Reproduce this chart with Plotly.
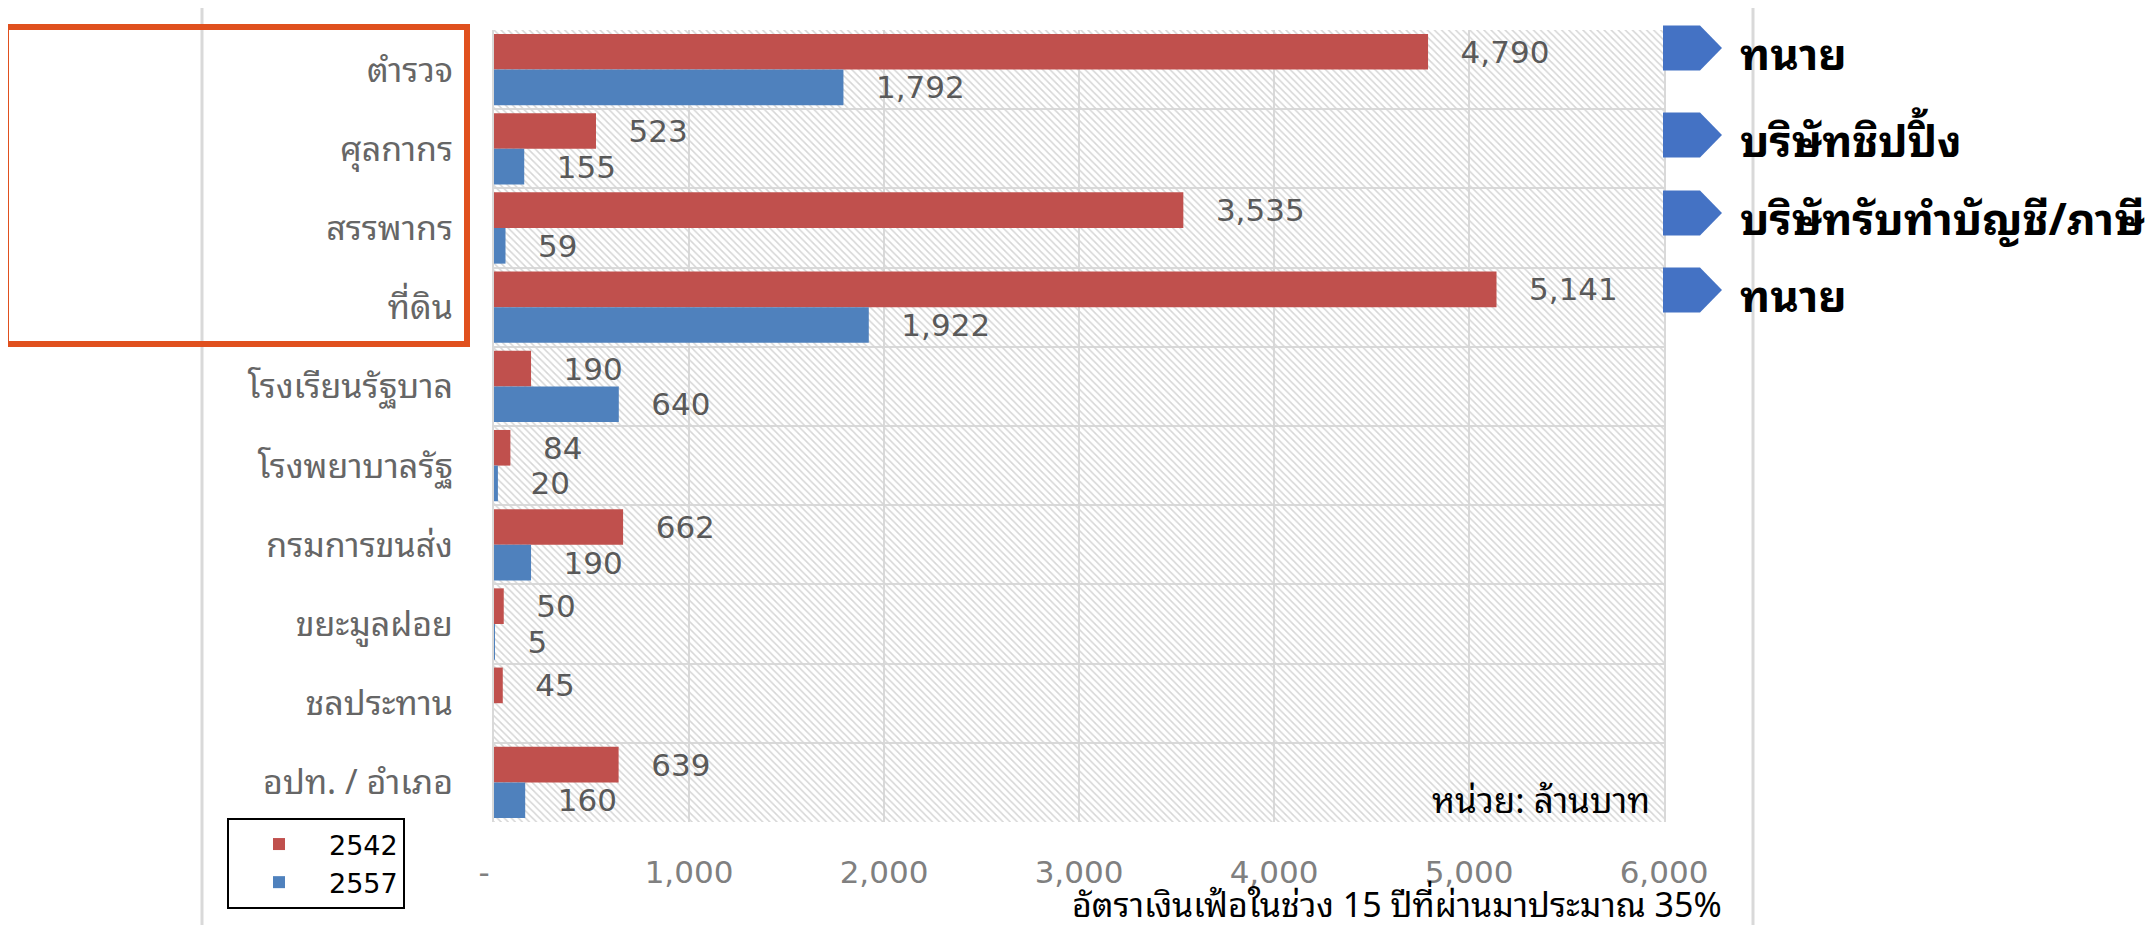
import plotly.graph_objects as go

# ---------------- data ----------------
CATEGORIES = ["ตำรวจ", "ศุลกากร", "สรรพากร", "ที่ดิน", "โรงเรียนรัฐบาล",
              "โรงพยาบาลรัฐ", "กรมการขนส่ง", "ขยะมูลฝอย", "ชลประทาน", "อปท. / อำเภอ"]
SERIES_NAMES = ["2542", "2557"]
VALUES_2542 = [4790, 523, 3535, 5141, 190, 84, 662, 50, 45, 639]
VALUES_2557 = [1792, 155, 59, 1922, 640, 20, 190, 5, None, 160]
X_TICK_VALUES = [0, 1000, 2000, 3000, 4000, 5000, 6000]
X_TICK_LABELS = ["-\u00a0\u00a0", "1,000", "2,000", "3,000", "4,000", "5,000", "6,000"]
SIDE_LABELS = ["ทนาย", "บริษัทชิปปิ้ง", "บริษัทรับทำบัญชี/ภาษี", "ทนาย"]
UNIT_TEXT = "หน่วย: ล้านบาท"
NOTE_TEXT = "อัตราเงินเฟ้อในช่วง 15 ปีที่ผ่านมาประมาณ 35%"

# ---------------- styling / layout ----------------
OFF = 8                                   # page body margin
W, H = 2156 - OFF, 925 - OFF
PL, PR, PT, PB = 494, 1664, 30, 822       # plot area in reference pixels
COL_RED = "#C0504D"
COL_BLUE = "#4F81BD"
COL_ARROW = "#4472C4"
COL_ORANGE = "#E0501E"
GRID = "#D9D9D9"
TXT_GREY = "#595959"
THAI_FONT = "Noto Sans Thai Looped, Noto Sans Thai, Noto Sans, sans-serif"
NUM_FONT = "DejaVu Sans, Open Sans, sans-serif"
SIDE_Y_PX = [48, 135, 213, 290]


def px(x):
    return (x - PL) / (PR - PL)


def py(y):
    return (PB - y) / (PB - PT)


n = len(CATEGORIES)
x_max = X_TICK_VALUES[-1]

fig = go.Figure()

# hatched plot-area background (on main linear y axis)
fig.add_trace(go.Bar(
    x=[x_max], y=[(n - 1) / 2], width=[n], base=0, orientation="h",
    xaxis="x", yaxis="y",
    marker=dict(color="rgba(0,0,0,0)", line=dict(width=0),
                pattern=dict(shape="\\", fgcolor="#D6D6D6", bgcolor="rgba(0,0,0,0)",
                             size=5, solidity=0.3, fillmode="replace")),
    hoverinfo="skip", showlegend=False,
))

for name, vals, col in [(SERIES_NAMES[0], VALUES_2542, COL_RED),
                        (SERIES_NAMES[1], VALUES_2557, COL_BLUE)]:
    fig.add_trace(go.Bar(
        name=name, x=vals, y=CATEGORIES, orientation="h",
        xaxis="x", yaxis="y2",
        marker=dict(color=col, line=dict(width=0)),
        texttemplate="\u00a0\u00a0\u00a0%{x:,}", textposition="outside",
        constraintext="none",
        textfont=dict(color=TXT_GREY, size=31, family=NUM_FONT),
        cliponaxis=False,
    ))

shapes = []
# outer chart-area frame
shapes.append(dict(type="rect", xref="paper", yref="paper",
                   x0=px(202), x1=px(1753), y0=py(4), y1=py(960),
                   line=dict(color=GRID, width=3), fillcolor="rgba(0,0,0,0)", layer="below"))
# orange highlight box
shapes.append(dict(type="rect", xref="paper", yref="paper",
                   x0=px(6), x1=px(467), y0=py(27), y1=py(344),
                   line=dict(color=COL_ORANGE, width=6), fillcolor="rgba(0,0,0,0)"))
# arrows
for yc in SIDE_Y_PX:
    h = 22.5
    pts = [(1663, yc - h), (1700, yc - h), (1722, yc), (1700, yc + h), (1663, yc + h)]
    path = "M " + " L ".join(f"{px(a):.5f},{py(b):.5f}" for a, b in pts) + " Z"
    shapes.append(dict(type="path", xref="paper", yref="paper", path=path,
                       fillcolor=COL_ARROW, line=dict(width=0)))

annotations = []
for lab, yc in zip(SIDE_LABELS, SIDE_Y_PX):
    annotations.append(dict(text=f"<b>{lab}</b>", xref="paper", yref="paper",
                            x=px(1738), y=py(yc + 2), xanchor="left", yanchor="middle",
                            showarrow=False, font=dict(size=44, color="black", family=THAI_FONT)))
annotations.append(dict(text=UNIT_TEXT, xref="paper", yref="paper",
                        x=px(1652), y=py(797), xanchor="right", yanchor="middle",
                        showarrow=False, font=dict(size=35, color="black", family=THAI_FONT)))
annotations.append(dict(text=NOTE_TEXT, xref="paper", yref="paper",
                        x=px(1724), y=py(901), xanchor="right", yanchor="middle",
                        showarrow=False, font=dict(size=34, color="black", family=THAI_FONT)))

fig.update_layout(
    width=W, height=H,
    margin=dict(l=PL - OFF, r=W - (PR - OFF), t=PT - OFF, b=H - (PB - OFF), pad=0),
    paper_bgcolor="white", plot_bgcolor="white",
    barmode="group", bargap=0.1, bargroupgap=0,
    xaxis=dict(range=[0, x_max], tickvals=X_TICK_VALUES, ticktext=X_TICK_LABELS,
               showgrid=True, gridcolor=GRID, gridwidth=1.5, zeroline=False,
               showline=False, ticks="", ticklabelstandoff=29,
               tickfont=dict(size=31, color="#808080", family=NUM_FONT)),
    yaxis=dict(range=[n - 0.5, -0.5], tick0=-0.5, dtick=1, showticklabels=False,
               showgrid=True, gridcolor=GRID, gridwidth=1.5, zeroline=False,
               showline=True, linecolor=GRID, linewidth=1.5, mirror=True, ticks=""),
    yaxis2=dict(type="category", overlaying="y", side="left", autorange="reversed",
                showgrid=False, zeroline=False, ticks="", ticklabelstandoff=40,
                tickfont=dict(size=34, color="#666666", family=THAI_FONT)),
    legend=dict(x=px(227), y=py(818), xanchor="left", yanchor="top",
                bgcolor="white", bordercolor="black", borderwidth=2,
                font=dict(size=27, color="black", family=NUM_FONT),
                tracegroupgap=0, itemwidth=90),
    shapes=shapes, annotations=annotations,
    showlegend=True,
)

fig.write_html("out.html")
